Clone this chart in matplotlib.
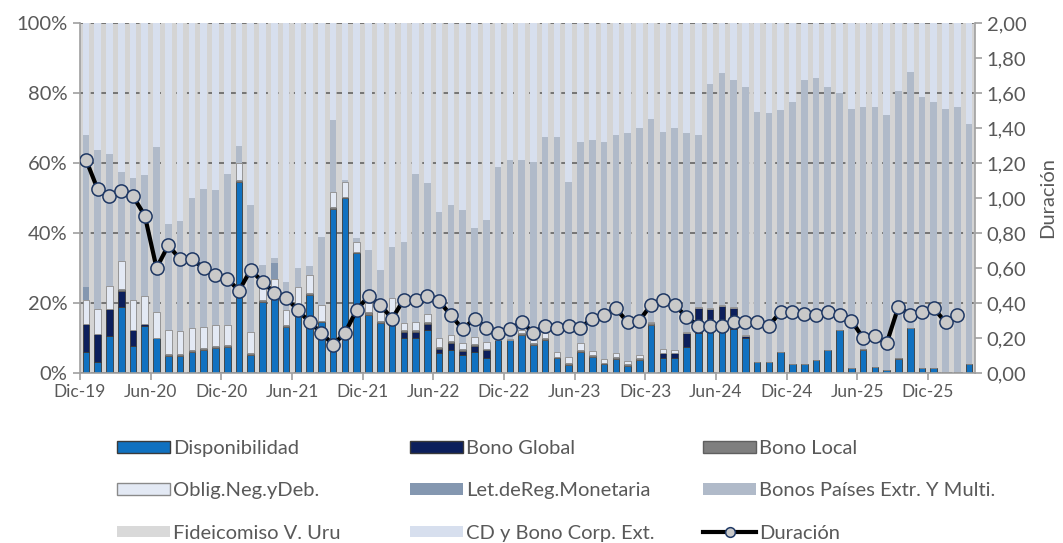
#! /usr/bin/env python3

from numpy import array, arange, zeros
from matplotlib.pyplot import subplots, rcParams
from matplotlib.patches import Patch
from matplotlib.lines import Line2D
from matplotlib.ticker import FixedLocator, FuncFormatter, NullLocator

# Monthly composition (% of portfolio), Dic-19 .. Mar-26 (76 months)
disponibilidad = [
  6.0, 3.1, 10.6, 19.0, 7.8, 13.4, 9.9, 5.0, 5.0, 6.0,
  6.7, 7.1, 7.4, 54.7, 5.1, 20.4, 21.3, 13.2, 17.0, 22.3,
  14.5, 47.0, 49.9, 34.2, 16.6, 14.2, 13.7, 9.9, 9.9, 12.3,
  5.6, 6.6, 5.1, 6.1, 4.2, 9.4, 9.4, 10.9, 8.0, 9.4,
  4.2, 2.3, 6.1, 4.7, 2.5, 4.0, 2.1, 3.7, 13.7, 4.2,
  4.2, 7.5, 11.3, 12.0, 13.0, 12.5, 10.0, 3.2, 3.2, 6.1,
  2.6, 2.6, 3.7, 6.6, 12.3, 1.3, 6.6, 1.6, 0.9, 4.0,
  12.8, 1.3, 1.3, 0.3, 0.3, 2.5,
]
bono_global = [
  8.0, 8.0, 7.6, 4.4, 4.6, 0.5, 0, 0, 0, 0,
  0, 0, 0, 0, 0, 0, 0, 0, 0, 0,
  0, 0, 0, 0, 0, 0, 0.5, 1.9, 1.9, 1.8,
  1.4, 2.0, 1.3, 1.7, 2.3, 0, 0, 0, 0, 0,
  0, 0, 0, 0, 0, 0, 0, 0, 0, 1.4,
  1.4, 3.8, 7.2, 6.2, 6.1, 6.0, 0.6, 0, 0, 0,
  0, 0, 0, 0, 0, 0, 0, 0, 0, 0,
  0, 0, 0, 0, 0, 0,
]
bono_local = [
  0, 0, 0, 0.5, 0, 0, 0, 0.5, 0.5, 0.5,
  0.5, 0.5, 0.5, 0.5, 0.5, 0.5, 0.5, 0.5, 0.5, 0.5,
  0.5, 0.5, 0.5, 0.5, 0.8, 0.8, 2.0, 0.5, 0.5, 0.5,
  0.5, 0.5, 0.5, 0.5, 0.5, 0, 0, 0.5, 0.5, 0.5,
  0.5, 0.5, 0.5, 0.5, 0.5, 0.5, 0.5, 0.5, 0.5, 0,
  0, 0, 0, 0, 0, 0, 0, 0, 0, 0,
  0, 0, 0, 0, 0, 0, 0.4, 0, 0, 0.4,
  0, 0, 0, 0, 0, 0,
]
oblig_neg = [
  7.0, 7.2, 6.8, 8.2, 8.5, 8.1, 7.6, 6.7, 6.4, 6.4,
  5.9, 6.2, 5.7, 4.8, 6.2, 3.8, 5.0, 4.3, 7.2, 5.2,
  4.5, 4.3, 4.3, 2.8, 2.5, 2.5, 5.1, 1.9, 2.4, 2.3,
  2.4, 1.8, 1.6, 2.1, 1.9, 0.3, 0.3, 0.9, 0.9, 1.4,
  1.4, 1.9, 1.9, 1.2, 0.9, 1.1, 0.9, 0.9, 0.5, 1.2,
  1.0, 0.3, 0.3, 0.3, 0.3, 0.3, 0.3, 0, 0, 0,
  0, 0, 0, 0, 0, 0, 0, 0, 0, 0,
  0, 0, 0, 0, 0, 0,
]
let_reg_monetaria = [
  3.5, 0, 0, 0, 0, 0, 0, 0, 0, 0,
  0, 0, 0, 0, 0, 0, 4.5, 0, 0, 0,
  0, 0, 0, 0, 0, 0, 0, 0, 0, 0,
  0, 0, 0, 0, 0, 0, 0, 0, 0, 0,
  0, 0, 0, 0, 0, 0, 0, 0, 0, 0,
  0, 0, 0, 0, 0, 0, 0, 0, 0, 0,
  0, 0, 0, 0, 0, 0, 0, 0, 0, 0,
  0, 0, 0, 0, 0, 0,
]
bonos_paises = [
  43.5, 45.5, 37.6, 25.4, 34.9, 34.5, 47.0, 30.3, 31.6, 37.1,
  39.4, 38.6, 43.4, 5.0, 36.2, 6.3, 1.7, 8.0, 5.3, 2.5,
  19.5, 20.5, 0.4, 1.0, 15.2, 11.9, 14.8, 23.3, 42.3, 37.3,
  36.2, 37.1, 38.1, 30.9, 34.8, 49.2, 51.2, 48.6, 51.0, 56.2,
  61.4, 50.0, 57.6, 60.2, 62.2, 62.4, 65.2, 64.8, 57.8, 62.2,
  63.3, 56.9, 49.2, 64.1, 66.2, 64.9, 70.7, 71.5, 71.0, 69.0,
  74.9, 81.1, 80.5, 75.0, 67.6, 74.0, 69.1, 74.3, 72.8, 76.3,
  73.3, 77.7, 76.2, 75.0, 75.8, 68.7,
]
fideicomiso = [
  0, 0, 0, 0, 0, 0, 0, 0, 0, 0,
  0, 0, 0, 0, 0, 0, 0, 0, 0, 0,
  0, 0, 0, 0, 0, 0, 0, 0, 0, 0,
  0, 0, 0, 0, 0, 0, 0, 0, 0, 0,
  0, 0, 0, 0, 0, 0, 0, 0, 0, 0,
  0, 0, 0, 0, 0, 0, 0, 0, 0, 0,
  0, 0, 0, 0, 0, 0, 0, 0, 0, 0,
  0, 0, 0, 0, 0, 0,
]
cd_bono_corp = [
  32.0, 36.2, 37.4, 42.5, 44.2, 43.5, 35.5, 57.5, 56.5, 50.0,
  47.5, 47.6, 43.0, 35.0, 52.0, 69.0, 67.0, 74.0, 70.0, 69.5,
  61.0, 27.7, 44.9, 61.5, 64.9, 70.6, 63.9, 62.5, 43.0, 45.8,
  53.9, 52.0, 53.4, 58.7, 56.3, 41.1, 39.1, 39.1, 39.6, 32.5,
  32.5, 45.3, 33.9, 33.4, 33.9, 32.0, 31.3, 30.1, 27.5, 31.0,
  30.1, 31.5, 32.0, 17.4, 14.4, 16.3, 18.4, 25.3, 25.8, 24.9,
  22.5, 16.3, 15.8, 18.4, 20.1, 24.7, 23.9, 24.1, 26.3, 19.3,
  13.9, 21.0, 22.5, 24.7, 23.9, 28.8,
]
# Duration (right axis), Dic-19 .. Feb-26
duracion = [
  1.22, 1.05, 1.01, 1.04, 1.01, 0.90, 0.60, 0.73, 0.65, 0.65,
  0.60, 0.56, 0.54, 0.47, 0.59, 0.52, 0.46, 0.43, 0.36, 0.29,
  0.23, 0.16, 0.23, 0.36, 0.44, 0.39, 0.31, 0.42, 0.42, 0.44,
  0.41, 0.33, 0.25, 0.31, 0.26, 0.23, 0.25, 0.29, 0.23, 0.27,
  0.26, 0.27, 0.26, 0.31, 0.33, 0.37, 0.29, 0.30, 0.39, 0.42,
  0.39, 0.32, 0.27, 0.27, 0.27, 0.29, 0.29, 0.29, 0.27, 0.35,
  0.35, 0.34, 0.33, 0.35, 0.33, 0.30, 0.20, 0.21, 0.17, 0.38,
  0.33, 0.35, 0.37, 0.29, 0.33,
]
tick_labels = ['Dic-19', 'Jun-20', 'Dic-20', 'Jun-21', 'Dic-21', 'Jun-22', 'Dic-22',
               'Jun-23', 'Dic-23', 'Jun-24', 'Dic-24', 'Jun-25', 'Dic-25']

W, H = 1063, 543
GREY_TXT = '#595959'
FS_Y = 14.5
FS_X = 12.5
FS_LEG = 14.5


def series_list():
  # (label, values, face, edge)
  return [
    ('Disponibilidad', disponibilidad, '#1071c0', '#3a3a3a'),
    ('Bono Global', bono_global, '#0c1f5c', '#3a3a3a'),
    ('Bono Local', bono_local, '#7f7f7f', '#5f5f5f'),
    ('Oblig.Neg.yDeb.', oblig_neg, '#e3e9f4', '#8a8a8a'),
    ('Let.deReg.Monetaria', let_reg_monetaria, '#8497b0', 'none'),
    ('Bonos Países Extr. Y Multi.', bonos_paises, '#b0bac9', 'none'),
    ('Fideicomiso V. Uru', fideicomiso, '#d9d9d9', 'none'),
    ('CD y Bono Corp. Ext.', cd_bono_corp, '#d7dfee', 'none'),
  ]


if __name__ == '__main__':
  rcParams['font.family'] = ['Lato', 'DejaVu Sans']
  fig, ax = subplots(figsize=(W / 100, H / 100), dpi=100)
  fig.subplots_adjust(left=80 / W, right=975 / W, top=1 - 23 / H, bottom=1 - 373 / H)
  ax.set_facecolor('#d4d4d4')

  x = arange(len(disponibilidad))
  bottom = zeros(len(x))
  handles = []
  for label, vals, face, edge in series_list():
    vals = array(vals, dtype=float)
    lw = 0.6 if edge != 'none' else 0
    ax.bar(x, vals, width=0.56, bottom=bottom, color=face, edgecolor=edge,
           linewidth=lw, zorder=2)
    bottom += vals
    handles.append(Patch(facecolor=face, edgecolor=edge if edge != 'none' else face,
                         linewidth=1.0 if edge != 'none' else 0, label=label))

  ax.set_xlim(-0.5, len(x) - 0.5)
  ax.set_ylim(0, 100)
  ax.yaxis.set_major_locator(FixedLocator([0, 20, 40, 60, 80, 100]))
  ax.yaxis.set_major_formatter(FuncFormatter(lambda v, p: f'{v:.0f}%'))
  ax.yaxis.grid(True, linestyle=(0, (4, 3)), color='#5a5a5a', linewidth=1.1, zorder=1)
  ax.set_axisbelow(True)

  ticks = arange(0, len(x), 6)[:len(tick_labels)] - 0.5
  ax.xaxis.set_major_locator(FixedLocator(ticks))
  ax.set_xticklabels(tick_labels)
  ax.xaxis.set_minor_locator(NullLocator())

  for s in ['left', 'bottom']:
    ax.spines[s].set_color('#a0a0a0')
    ax.spines[s].set_linewidth(1.2)
  ax.spines['top'].set_visible(False)
  ax.spines['right'].set_visible(False)
  ax.tick_params(axis='both', colors='#a0a0a0', labelcolor=GREY_TXT,
                 length=5, width=1.2, direction='out')
  ax.tick_params(axis='y', labelsize=FS_Y, pad=4)
  ax.tick_params(axis='x', labelsize=FS_X, pad=3)

  ax2 = ax.twinx()
  ax2.set_ylim(0, 2)
  ax2.yaxis.set_major_locator(FixedLocator(arange(0, 2.01, 0.2)))
  ax2.yaxis.set_major_formatter(FuncFormatter(lambda v, p: f'{v:.2f}'.replace('.', ',')))
  ax2.tick_params(axis='y', colors='#a0a0a0', labelcolor=GREY_TXT, labelsize=FS_Y,
                  length=5, width=1.2, direction='out')
  for s in ['left', 'bottom', 'top']:
    ax2.spines[s].set_visible(False)
  ax2.spines['right'].set_color('#a0a0a0')
  ax2.spines['right'].set_linewidth(1.2)
  ax2.set_ylabel('Duración', color=GREY_TXT, fontsize=FS_Y, labelpad=9)

  ax2.plot(arange(len(duracion)), duracion, color='black', linewidth=3, marker='o',
           markersize=9.5, markerfacecolor='#c9c9c9', markeredgecolor='#1f3864',
           markeredgewidth=1.1, zorder=3)
  dur_handle = Line2D([], [], color='black', linewidth=3, marker='o', markersize=7,
                      markerfacecolor='#c9c9c9', markeredgecolor='#1f3864',
                      markeredgewidth=1.1, label='Duración')

  # legend: three columns, three rows
  columns = [
    [handles[0], handles[3], handles[6]],
    [handles[1], handles[4], handles[7]],
    [handles[2], handles[5], dur_handle],
  ]
  for cx, col in zip([117, 410, 703], columns):
    leg = fig.legend(handles=col, loc='upper left', bbox_to_anchor=(cx / W, 1 - 440 / H),
                     frameon=False, fontsize=FS_LEG, handlelength=2.64, handleheight=0.5,
                     handletextpad=0.15, labelspacing=1.26, borderpad=0, borderaxespad=0,
                     numpoints=1)
    for t in leg.get_texts():
      t.set_color(GREY_TXT)

  fig.savefig('out.png', dpi=100)
